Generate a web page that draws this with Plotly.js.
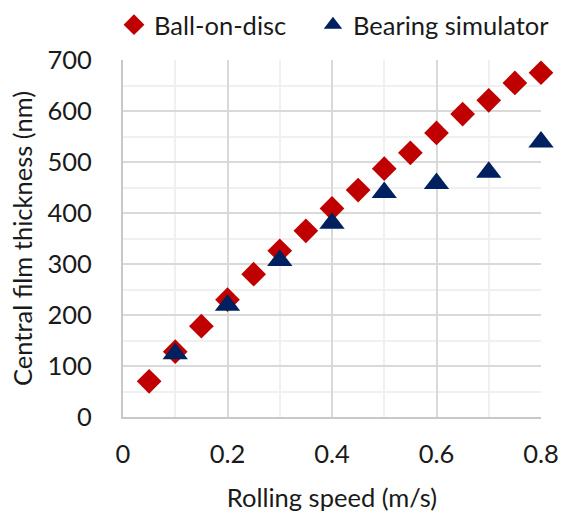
<!DOCTYPE html>
<html>
<head>
<meta charset="utf-8">
<script src="https://cdn.plot.ly/plotly-3.0.1.min.js"></script>
<style>
html,body{margin:0;padding:0;background:#fff;}
#chart{width:568px;height:512px;}
</style>
</head>
<body>
<div id="chart"></div>
<script>
const ballSpeed = [0.05,0.1,0.15,0.2,0.25,0.3,0.35,0.4,0.45,0.5,0.55,0.6,0.65,0.7,0.75,0.8];
const ballThickness = [70,128,178,230,280,326,365,409,445,487,518,557,594,621,655,675];
const bearingSpeed = [0.1,0.2,0.3,0.4,0.5,0.6,0.7,0.8];
const bearingThickness = [124,219,307,380,440,458,480,539];
const seriesNames = ["Ball-on-disc","Bearing simulator"];
const xTickVals = [0,0.2,0.4,0.6,0.8];
const xTickText = ["0","0.2","0.4","0.6","0.8"];
const yTickVals = [0,100,200,300,400,500,600,700];

const FONT = "Lato, 'Open Sans', sans-serif";
const FS = 25.5;
const TXT = "#1a1a1a";

const traces = [
  {
    x: ballSpeed, y: ballThickness, name: seriesNames[0], legend: "legend",
    type: "scatter", mode: "markers", cliponaxis: false,
    marker: {symbol: "diamond", size: 19, color: "#C00000"}
  },
  {
    x: bearingSpeed, y: bearingThickness, name: seriesNames[1], legend: "legend2",
    type: "scatter", mode: "markers", cliponaxis: false,
    marker: {symbol: "triangle-up", size: 22, color: "#002060"}
  }
];

const legendCommon = {
  orientation: "h", xref: "container", yref: "container",
  yanchor: "middle", y: 0.951, xanchor: "left",
  font: {family: FONT, size: FS, color: TXT}, itemwidth: 30, bgcolor: "rgba(0,0,0,0)"
};

const layout = {
  width: 568, height: 512,
  margin: {l: 123, r: 27, t: 60, b: 95, pad: 0},
  paper_bgcolor: "#ffffff", plot_bgcolor: "#ffffff",
  font: {family: FONT, size: FS, color: TXT},
  showlegend: true,
  legend: Object.assign({}, legendCommon, {x: 0.2007}),
  legend2: Object.assign({}, legendCommon, {x: 0.551}),
  xaxis: {
    range: [0, 0.8], tickvals: xTickVals, ticktext: xTickText,
    showgrid: true, gridcolor: "#d9d9d9", gridwidth: 2,
    minor: {dtick: 0.1, tick0: 0, showgrid: true, gridcolor: "#f0f0f0", gridwidth: 2},
    showline: true, linecolor: "#c8c8c8", linewidth: 2,
    zeroline: false, ticks: "", ticklabelstandoff: 13,
    tickfont: {family: FONT, size: FS, color: TXT},
    title: {text: "Rolling speed (m/s)", font: {family: FONT, size: FS, color: TXT}, standoff: 33},
    automargin: false, fixedrange: true
  },
  yaxis: {
    range: [0, 700], tickvals: yTickVals,
    showgrid: true, gridcolor: "#d9d9d9", gridwidth: 2,
    minor: {dtick: 50, tick0: 0, showgrid: true, gridcolor: "#f0f0f0", gridwidth: 2},
    showline: true, linecolor: "#c8c8c8", linewidth: 2,
    zeroline: false, ticks: "", ticklabelstandoff: 24,
    tickfont: {family: FONT, size: FS, color: TXT},
    title: {text: "Central film thickness (nm)", font: {family: FONT, size: FS, color: TXT}, standoff: 8},
    automargin: false, fixedrange: true
  }
};

Plotly.newPlot("chart", traces, layout, {staticPlot: true, displayModeBar: false});
</script>
</body>
</html>
